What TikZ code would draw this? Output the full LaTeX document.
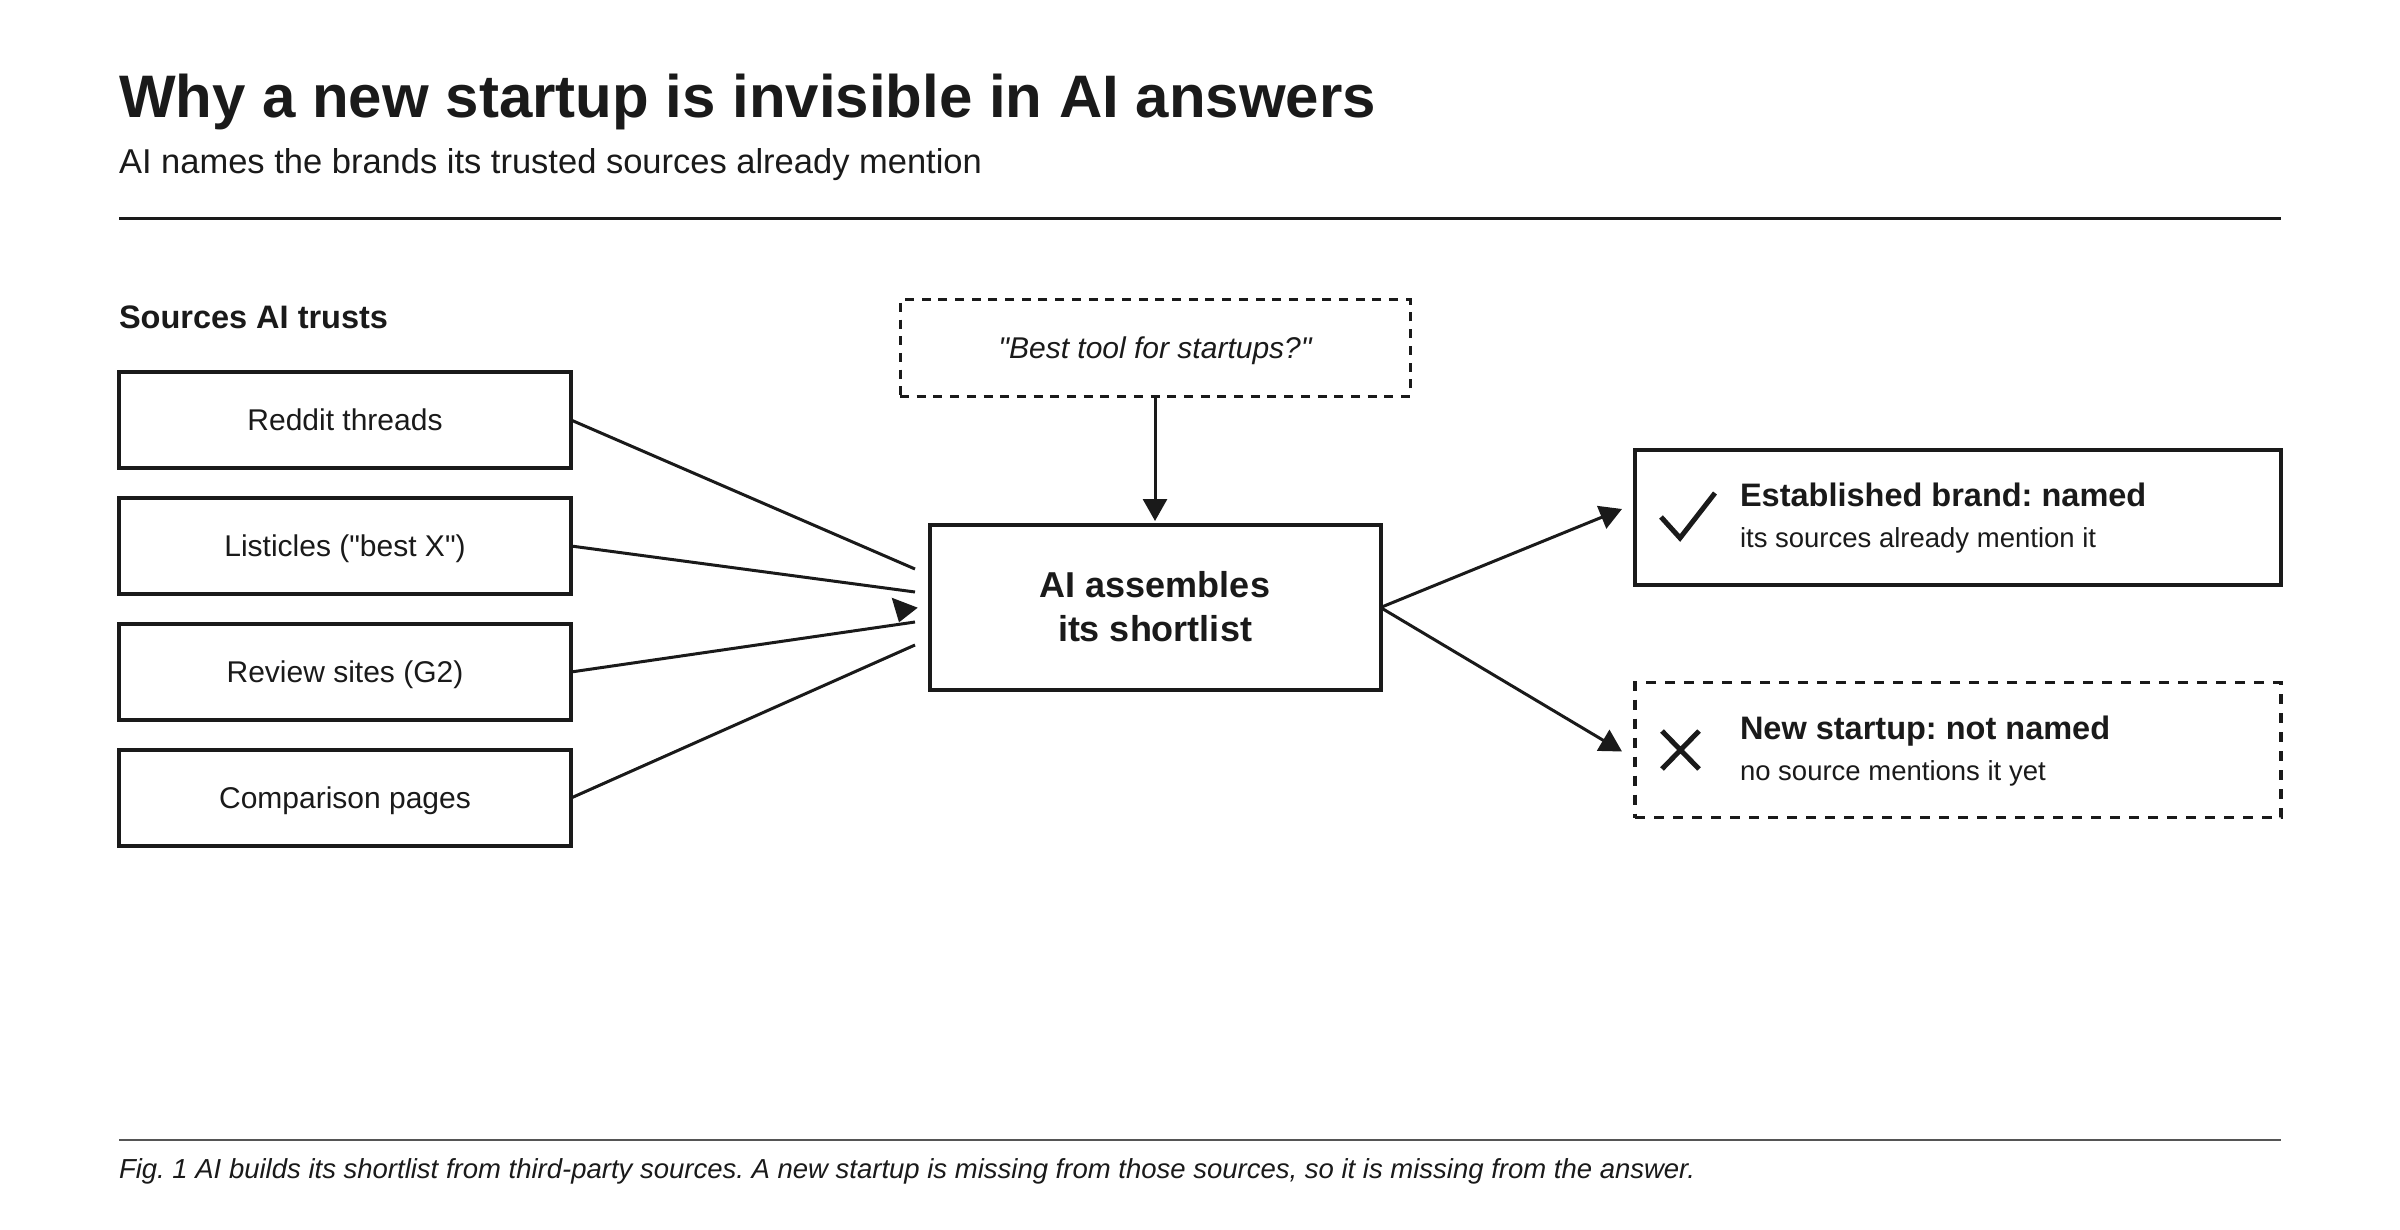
\documentclass[tikz,border=0pt]{standalone}
\usepackage{fontspec}
\setmainfont{Liberation Sans}
\newfontfamily\plainsans{Liberation Sans}
\usetikzlibrary{arrows.meta,calc}
\definecolor{ink}{HTML}{1A1A1A}
\definecolor{rulegray}{HTML}{555555}
\frenchspacing
\begin{document}
\frenchspacing
\begin{tikzpicture}[x=1pt,y=-1pt,
  every node/.style={text=ink, inner sep=0pt, outer sep=0pt},
  srcbox/.style={draw=ink, line width=3.2pt, minimum width=452pt, minimum height=96pt,
    font=\fontsize{30}{36}\selectfont\plainsans, text height=21.5pt, text depth=0pt},
  querybox/.style={draw=ink, line width=3pt, dash pattern=on 9pt off 7.7pt,
    minimum width=510pt, minimum height=96pt,
    font=\fontsize{30}{36}\selectfont\plainsans\itshape, text height=21.5pt, text depth=0pt},
  centerbox/.style={draw=ink, line width=4pt, minimum width=451pt, minimum height=165pt},
  centertext/.style={anchor=base, font=\fontsize{36}{44}\selectfont\bfseries},
  resbox/.style={draw=ink, line width=3.5pt, minimum width=646pt, minimum height=135pt},
  resdashed/.style={resbox, dash pattern=on 10pt off 9pt},
  restitle/.style={anchor=base west, font=\fontsize{32.5}{38}\selectfont\bfseries},
  ressub/.style={anchor=base west, font=\fontsize{27.5}{33}\selectfont},
  conn/.style={draw=ink, line width=3pt},
  arr/.style={conn, -{Triangle[length=22pt, width=24pt]}},
  symbolstroke/.style={draw=ink, line width=5pt}
]
\useasboundingbox[fill=white] (0,0) rectangle (2400,1230);

% header
\node[anchor=base west, font=\fontsize{60}{72}\selectfont\bfseries] (title) at (119,118)
  {Why a new startup is invisible in AI answers};
\node[anchor=base west, font=\fontsize{34.5}{40}\selectfont] (subtitle) at (119,174)
  {AI names the brands its trusted sources already mention};
\draw[draw=ink, line width=3pt] (119,218.5) -- (2281,218.5);

% sources
\node[anchor=base west, font=\fontsize{32.5}{38}\selectfont\bfseries] (srchead) at (119,329)
  {Sources AI trusts};
\node[srcbox] (s1) at (345,420) {Reddit threads};
\node[srcbox] (s2) at (345,546) {Listicles ("best X")};
\node[srcbox] (s3) at (345,672) {Review sites (G2)};
\node[srcbox] (s4) at (345,798) {Comparison pages};

% query and center
\node[querybox] (q) at (1155,348) {"Best tool for startups?"};
\node[centerbox] (ai) at (1155,607.5) {};
\node[centertext] (ai1) at ($(ai.center)+(0,-10.5)$) {AI assembles};
\node[centertext] (ai2) at ($(ai.center)+(0,33.5)$) {its shortlist};

% results
\node[resbox] (est) at (1958,517.5) {};
\node[resdashed] (new) at (1958,750) {};
\node[restitle] (estt) at ($(est.west)+(105,-11)$) {Established brand: named};
\node[ressub] (ests) at ($(est.west)+(105,29.5)$) {its sources already mention it};
\node[restitle] (newt) at ($(new.west)+(105,-11)$) {New startup: not named};
\node[ressub] (news) at ($(new.west)+(105,30)$) {no source mentions it yet};

% marks
\draw[symbolstroke] (1661,517) -- (1680,538) -- (1715,493);
\draw[symbolstroke] (1662,731) -- (1699,769) (1662,769) -- (1699,731);

% connectors
\coordinate (e1) at ($(ai.west)+(-14.5,-38.5)$);
\coordinate (e2) at ($(ai.west)+(-14.5,-15.5)$);
\coordinate (e3) at ($(ai.west)+(-14.5,14.5)$);
\coordinate (e4) at ($(ai.west)+(-14.5,37.5)$);
\draw[conn] (s1.east) -- (e1);
\draw[conn] (s2.east) -- (e2);
\draw[conn] (s3.east) -- (e3);
\draw[conn] (s4.east) -- (e4);
\fill[ink] (891.7,597.7) -- (917.7,607.7) -- (899,622.3) -- cycle;

\coordinate (qtip) at ($(ai.north)+(0,-4)$);
\draw[arr] (q.south) -- (qtip);

\coordinate (t1) at ($(est.west)+(-13,-8.5)$);
\coordinate (t2) at ($(new.west)+(-13,1.5)$);
\draw[arr] (ai.east) -- (t1);
\draw[arr] (ai.east) -- (t2);

% footer
\draw[draw=rulegray, line width=2pt] (119,1140) -- (2281,1140);
\node[anchor=base west, font=\fontsize{27.5}{33}\selectfont\itshape] (caption) at (119,1178.5)
  {Fig. 1 AI builds its shortlist from third-party sources. A new startup is missing from those sources, so it is missing from the answer.};
\end{tikzpicture}
\end{document}
